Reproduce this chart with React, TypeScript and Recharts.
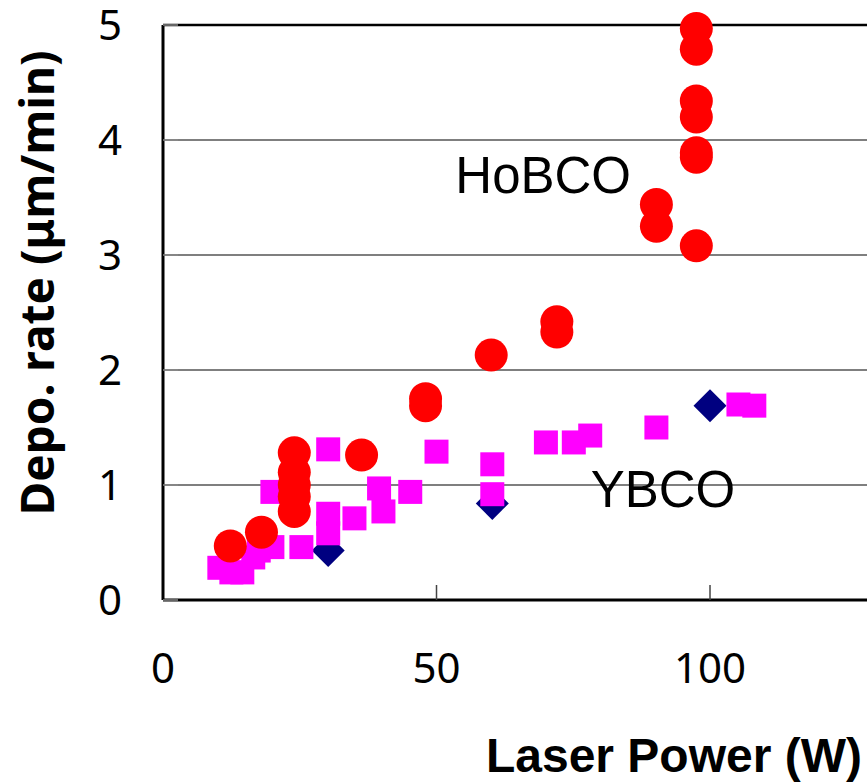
import {
  CartesianGrid,
  ReferenceDot,
  ReferenceLine,
  Scatter,
  ScatterChart,
  XAxis,
  YAxis,
} from "recharts";

// HoBCO (red circles)
const hoPower = [12.3, 18, 24, 24, 24, 24, 24, 36.3, 48, 48, 60, 72, 72, 90.2, 90.2, 97.5, 97.5, 97.5, 97.5, 97.5, 97.5, 97.5];
const hoRate = [0.47, 0.59, 0.77, 0.9, 1.0, 1.11, 1.28, 1.26, 1.69, 1.75, 2.13, 2.33, 2.42, 3.25, 3.44, 3.08, 3.85, 3.89, 4.2, 4.34, 4.79, 4.97];

// YBCO (magenta squares)
const yPower = [10.3, 12.5, 14.5, 16.5, 17.5, 20, 20, 25.3, 30.2, 30.2, 30.2, 35, 39.5, 40.3, 45.2, 50, 60.2, 60.2, 70, 75.1, 78.1, 90.2, 105.2, 108.1];
const yRate = [0.28, 0.24, 0.24, 0.37, 0.43, 0.46, 0.94, 0.46, 0.58, 0.75, 1.31, 0.71, 0.97, 0.77, 0.94, 1.29, 0.92, 1.18, 1.37, 1.37, 1.43, 1.5, 1.7, 1.69];

// YBCO other series (navy diamonds)
const dPower = [30.2, 60.2, 100];
const dRate = [0.43, 0.84, 1.69];

const xTicks = [0, 50, 100];
const yTicks = [0, 1, 2, 3, 4, 5];

const toPoints = (xs: number[], ys: number[]) => xs.map((x, i) => ({ x, y: ys[i] }));

const hoData = toPoints(hoPower, hoRate);
const yData = toPoints(yPower, yRate);
const dData = toPoints(dPower, dRate);

const Dot = (p: any) => <circle cx={p.cx} cy={p.cy} r={16.5} fill="#ff0000" />;
const Square = (p: any) => <rect x={p.cx - 12} y={p.cy - 12} width={24} height={24} fill="#ff00ff" />;
const Diamond = (p: any) => (
  <polygon
    points={`${p.cx},${p.cy - 16.5} ${p.cx + 16.5},${p.cy} ${p.cx},${p.cy + 16.5} ${p.cx - 16.5},${p.cy}`}
    fill="#000080"
  />
);

const tickFont = { fontFamily: "'Noto Sans', sans-serif", fontSize: 42, fill: "#000" };

export default function App() {
  return (
    <div style={{ position: "absolute", left: 0, top: 0 }}>
      <ScatterChart width={867} height={783} margin={{ top: 25, right: 0, bottom: 83, left: 0 }}>
        <CartesianGrid horizontal vertical={false} stroke="#000" strokeWidth={1.2} />
        <XAxis
          type="number"
          dataKey="x"
          domain={[0, 128.7]}
          ticks={xTicks}
          height={100}
          axisLine={{ stroke: "#000", strokeWidth: 3 }}
          tickLine={{ stroke: "#444", strokeWidth: 1.5 }}
          tickSize={-15}
          tickMargin={68}
          tick={tickFont}
          allowDataOverflow
          label={{
            content: () => (
              <text
                x={862}
                y={772}
                textAnchor="end"
                fontFamily="'Liberation Sans', Arial, sans-serif"
                fontWeight="bold"
                fontSize={48}
                fill="#000"
              >
                Laser Power (W)
              </text>
            ),
          }}
        />
        <YAxis
          type="number"
          dataKey="y"
          domain={[0, 5]}
          ticks={yTicks}
          width={163}
          axisLine={{ stroke: "#000", strokeWidth: 3 }}
          tickLine={{ stroke: "#888", strokeWidth: 1.5 }}
          tickSize={-15}
          tickMargin={56}
          tick={tickFont}
          label={{
            content: () => (
              <text
                x={54}
                y={283}
                transform="rotate(-90 54 283)"
                textAnchor="middle"
                fontFamily="'Noto Sans', sans-serif"
                fontWeight="bold"
                fontSize={46}
                fill="#000"
              >
                Depo. rate (μm/min)
              </text>
            ),
          }}
        />
        <ReferenceLine y={5} stroke="#000" strokeWidth={2.5} />
        <Scatter name="YBCO (ref)" data={dData} shape={Diamond} isAnimationActive={false} />
        <Scatter name="YBCO" data={yData} shape={Square} isAnimationActive={false} />
        <Scatter name="HoBCO" data={hoData} shape={Dot} isAnimationActive={false} />
        <ReferenceDot
          x={69.5}
          y={3.7}
          r={0}
          label={{
            value: "HoBCO",
            position: "center",
            fontSize: 51,
            fill: "#000",
            fontFamily: "'Liberation Sans', Arial, sans-serif",
          }}
        />
        <ReferenceDot
          x={91.4}
          y={0.97}
          r={0}
          label={{
            value: "YBCO",
            position: "center",
            fontSize: 51,
            fill: "#000",
            fontFamily: "'Liberation Sans', Arial, sans-serif",
          }}
        />
      </ScatterChart>
    </div>
  );
}
